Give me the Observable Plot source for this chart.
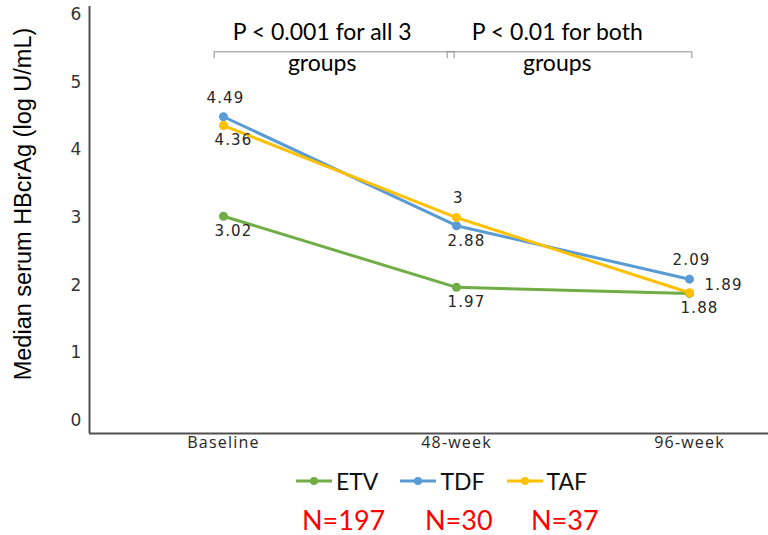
<!DOCTYPE html>
<html>
<head>
<meta charset="utf-8">
<script src="https://cdn.jsdelivr.net/npm/d3@7"></script>
<script src="https://cdn.jsdelivr.net/npm/@observablehq/plot@0.6"></script>
<style>
  body { margin: 0; background: #fff; }
  #wrap { position: relative; width: 768px; height: 535px; overflow: hidden; background: #fff; }
  #chart svg { display: block; overflow: visible; }
  .chart g[aria-label="x-axis tick label"] text { letter-spacing: 1.2px; }
  .chart g[font-family="DejaVu Sans"] text { letter-spacing: 1.2px; }
  #legend { position: absolute; left: 296px; top: 467px; height: 28px; display: flex; align-items: center;
            font-family: Lato, sans-serif; font-size: 23px; color: #111; }
  #legend .item { display: flex; align-items: center; margin-right: 22px; }
  #legend svg { margin-right: 4px; }
  #counts { position: absolute; top: 503px; left: 0; width: 768px; height: 32px;
            font-family: Lato, sans-serif; font-size: 27px; color: #ff0000; }
  #counts span { position: absolute; top: 0; }
</style>
</head>
<body>
<div id="wrap">
  <div id="chart"></div>
  <div id="legend"></div>
  <div id="counts"></div>
</div>
<script>
// Median serum HBcrAg by treatment group over time
const timepoints = ["Baseline", "48-week", "96-week"];
const groups = ["ETV", "TDF", "TAF"];
const etvValues = [3.02, 1.97, 1.88];
const tdfValues = [4.49, 2.88, 2.09];
const tafValues = [4.36, 3.00, 1.89];
const sampleSizes = ["N=197", "N=30", "N=37"];
const yTicks = [0, 1, 2, 3, 4, 5, 6];
const pNotes = [
  ["P < 0.001 for all 3", "groups"],
  ["P < 0.01 for both", "groups"]
];
const yTitle = "Median serum HBcrAg (log U/mL)";

const colors = {ETV: "#70AD47", TDF: "#5B9BD5", TAF: "#FFC000"};
// where each value label sits relative to its point
const placement = {
  ETV: ["below", "below", "below"],
  TDF: ["above", "below", "above"],
  TAF: ["below", "above", "right"]
};

const seriesValues = {ETV: etvValues, TDF: tdfValues, TAF: tafValues};
const rows = groups.flatMap(g => seriesValues[g].map((v, i) => ({
  group: g, t: i, value: v, place: placement[g][i]
})));

const yDomain = [-0.19, 6.06];
const xDomain = [-0.575, 2.339];
const bracketY = 5.45, bracketTickY = 5.35;
const brackets = pNotes.map((lines, i) => ({lines, x1: i - 0.04, x2: i + 1 + (i === 0 ? -0.01 : 0.01)}));
const bracketEnds = [...new Set(brackets.flatMap(b => [b.x1, b.x2]))];

const labelFont = "DejaVu Sans";
const chart = Plot.plot({
  className: "chart",
  width: 768,
  height: 460,
  marginLeft: 89,
  marginRight: 0,
  marginTop: 10,
  marginBottom: 27,
  style: {fontFamily: labelFont, color: "#262626", background: "#fff"},
  x: {domain: xDomain, axis: null},
  y: {domain: yDomain, axis: null},
  color: {domain: groups, range: groups.map(g => colors[g])},
  marks: [
    Plot.axisY({ticks: yTicks, tickSize: 0, tickPadding: 7, fontSize: 17, fontFamily: labelFont, label: null,
      tickFormat: d => d, fill: "#333"}),
    Plot.axisX({ticks: [0, 1, 2], tickFormat: i => timepoints[i], tickSize: 0, tickPadding: 3,
      fontSize: 16, fontFamily: "Open Sans", label: null}),
    Plot.ruleX([xDomain[0]], {y1: yDomain[0], y2: 6.12, stroke: "#505050", strokeWidth: 2}),
    Plot.ruleY([yDomain[0]], {x1: xDomain[0], x2: xDomain[1], stroke: "#505050", strokeWidth: 2}),
    Plot.text([yTitle], {frameAnchor: "left", textAnchor: "middle", rotate: -90, dx: -66, dy: -18, fontSize: 23.5,
      fontFamily: "Liberation Sans", fill: "#000"}),
    // significance brackets
    Plot.ruleY(brackets, {y: bracketY, x1: "x1", x2: "x2", stroke: "#8c8c8c", strokeWidth: 1}),
    Plot.ruleX(bracketEnds, {x: d => d, y1: bracketY, y2: bracketTickY, stroke: "#8c8c8c", strokeWidth: 1}),
    Plot.text(brackets, {x: d => d.x1 + 0.45 * (d.x2 - d.x1), y: bracketY, text: d => d.lines.join("\n"),
      lineHeight: 1.35, dy: -6, fontSize: 23, fontFamily: "Lato", fill: "#000"}),
    // series
    Plot.line(rows, {x: "t", y: "value", z: "group", stroke: "group", strokeWidth: 3}),
    Plot.dot(rows, {x: "t", y: "value", fill: "group", r: 4.5}),
    Plot.text(rows.filter(d => d.place === "above"), {x: "t", y: "value", text: d => String(d.value),
      dy: -19, dx: 2, fontSize: 15, fontFamily: labelFont, fill: "#262626"}),
    Plot.text(rows.filter(d => d.place === "below"), {x: "t", y: "value", text: d => String(d.value),
      dy: 15, dx: 10, fontSize: 15, fontFamily: labelFont, fill: "#262626"}),
    Plot.text(rows.filter(d => d.place === "right"), {x: "t", y: "value", text: d => String(d.value),
      dy: -8, dx: 15, textAnchor: "start", fontSize: 15, fontFamily: labelFont, fill: "#262626"})
  ]
});
document.getElementById("chart").append(chart);

// legend: line-and-dot swatches
const legend = document.getElementById("legend");
groups.forEach(g => {
  const item = document.createElement("div");
  item.className = "item";
  item.innerHTML = `<svg width="36" height="10"><line x1="0" y1="5" x2="36" y2="5" stroke="${colors[g]}" stroke-width="3"/><circle cx="18" cy="5" r="4" fill="${colors[g]}"/></svg><span>${g}</span>`;
  legend.append(item);
});

// group sizes
const countsLeft = [302, 425, 531];
const counts = document.getElementById("counts");
sampleSizes.forEach((s, i) => {
  const span = document.createElement("span");
  span.textContent = s;
  span.style.left = countsLeft[i] + "px";
  counts.append(span);
});
</script>
</body>
</html>
